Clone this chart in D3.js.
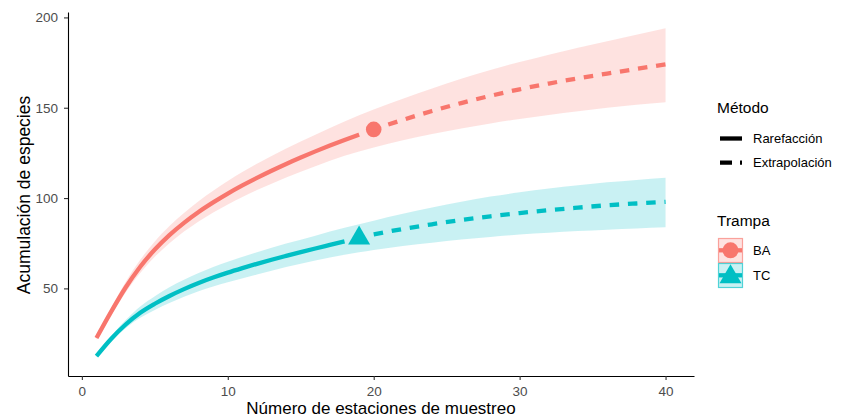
<!DOCTYPE html>
<html>
<head>
<meta charset="utf-8">
<script src="https://cdn.jsdelivr.net/npm/d3@7"></script>
<style>
  body { margin: 0; background: #fff; }
  svg { font-family: "Liberation Sans", Arial, sans-serif; }
</style>
</head>
<body>
<div id="chart"></div>
<script>
// BA (Trampa) - rarefaction, observed point, extrapolation
const baRareX = [1, 2, 3, 4, 5, 6, 7, 8, 9, 10, 11, 12, 13, 14, 15, 16, 17, 18, 19];
const baRareY = [22.5, 37, 50.5, 62, 71.5, 79.5, 86.3, 92.3, 97.6, 102.5, 107, 111.2, 115.15, 118.9, 122.45, 125.85, 129.1, 132.2, 135.15];
const baObs = [20, 138];
const baExtX = [21, 22, 24, 26, 28, 30, 32, 34, 36, 38, 40];
const baExtY = [140.7, 143.3, 148.2, 152.6, 156.6, 160.2, 163.4, 166.3, 168.9, 171.5, 174];
const baBandX = [1, 2, 3, 4, 5, 6, 8, 10, 12, 14, 16, 18, 20, 22, 24, 26, 28, 30, 32, 34, 36, 38, 40];
const baLo = [21.5, 35, 47.7, 58.5, 67.5, 75, 87, 96.5, 104.4, 111.4, 117.6, 123.4, 128, 132, 135.5, 138.5, 141.3, 143.8, 146, 148.1, 150, 151.6, 153];
const baHi = [23.5, 39, 53.5, 65.8, 76, 84.5, 98.3, 109.5, 119, 127.4, 135.1, 142.4, 149, 155, 160.7, 166, 170.9, 175.3, 179.4, 183.2, 186.8, 190.4, 194];

// TC
const tcRareX = [1, 2, 3, 4, 5, 6, 7, 8, 9, 10, 11, 12, 13, 14, 15, 16, 17, 18];
const tcRareY = [12.5, 22, 30, 36.5, 41.5, 45.8, 49.6, 53, 56, 58.7, 61.2, 63.6, 65.85, 68, 70.1, 72.1, 74.05, 76];
const tcObs = [19, 78.2];
const tcExtX = [20, 22, 24, 26, 28, 30, 32, 34, 36, 38, 40];
const tcExtY = [79.9, 82.9, 85.5, 87.9, 89.9, 91.7, 93.3, 94.7, 96, 97, 97.9];
const tcBandX = [1, 2, 3, 4, 5, 6, 8, 10, 12, 14, 16, 18, 19, 20, 22, 24, 26, 28, 30, 32, 34, 36, 38, 40];
const tcLo = [12, 20.8, 28, 33.7, 38.1, 41.9, 48.4, 53.4, 57.7, 61.8, 65.5, 68.6, 70, 71.3, 73.5, 75.3, 77, 78.5, 79.8, 80.8, 81.7, 82.5, 83.2, 83.8];
const tcHi = [13, 23.5, 32.5, 40, 45.7, 50.6, 58.5, 64.7, 70, 74.8, 79.2, 83.5, 85.5, 87.5, 91.3, 94.8, 98, 100.8, 103.2, 105.3, 107.1, 108.7, 110, 111.2];

const xTicks = [0, 10, 20, 30, 40];
const yTicks = [50, 100, 150, 200];
const trampas = ["BA", "TC"];
const metodos = ["Rarefacción", "Extrapolación"];
const colors = { BA: "#F8766D", TC: "#00BFC4" };

const width = 845, height = 420;
const svg = d3.select("#chart").append("svg")
    .attr("width", width)
    .attr("height", height);

svg.append("rect").attr("width", width).attr("height", height).attr("fill", "#fff");

const x = d3.scaleLinear().domain([-0.95, 41.95]).range([68, 694]);
const y = d3.scaleLinear().domain([1.5, 203]).range([376, 12]);

const zip = (xs, ys) => xs.map((v, i) => [v, ys[i]]);

const series = [
    { key: "BA", rare: zip(baRareX, baRareY), ext: zip(baExtX, baExtY), obs: baObs,
      band: baBandX.map((v, i) => [v, baLo[i], baHi[i]]) },
    { key: "TC", rare: zip(tcRareX, tcRareY), ext: zip(tcExtX, tcExtY), obs: tcObs,
      band: tcBandX.map((v, i) => [v, tcLo[i], tcHi[i]]) }
];

const area = d3.area()
    .x(d => x(d[0])).y0(d => y(d[1])).y1(d => y(d[2]))
    .curve(d3.curveMonotoneX);
const line = d3.line()
    .x(d => x(d[0])).y(d => y(d[1]))
    .curve(d3.curveMonotoneX);

// ribbons
series.forEach(s => {
    svg.append("path")
        .attr("d", area(s.band))
        .attr("fill", colors[s.key])
        .attr("fill-opacity", 0.21);
});

// lines
series.forEach(s => {
    svg.append("path")
        .attr("d", line(s.rare))
        .attr("fill", "none")
        .attr("stroke", colors[s.key])
        .attr("stroke-width", 4.3);
    svg.append("path")
        .attr("d", line(s.ext))
        .attr("fill", "none")
        .attr("stroke", colors[s.key])
        .attr("stroke-width", 4.3)
        .attr("stroke-dasharray", "9.5,8.8");
});

// observed markers
const triPath = "M0,-12L11,7L-11,7Z";
series.forEach(s => {
    const cx = x(s.obs[0]), cy = y(s.obs[1]);
    if (s.key === "BA") {
        svg.append("circle").attr("cx", cx).attr("cy", cy).attr("r", 7.8)
            .attr("fill", colors[s.key]);
    } else {
        svg.append("path").attr("d", triPath)
            .attr("transform", `translate(${cx},${cy})`)
            .attr("fill", colors[s.key]);
    }
});

// axes
const xAxis = svg.append("g")
    .attr("transform", `translate(0,376)`)
    .call(d3.axisBottom(x).tickValues(xTicks).tickSize(4).tickSizeOuter(0).tickPadding(6));
const yAxis = svg.append("g")
    .attr("transform", `translate(68,0)`)
    .call(d3.axisLeft(y).tickValues(yTicks).tickSize(4).tickSizeOuter(0).tickPadding(6));

[xAxis, yAxis].forEach(g => {
    g.select(".domain").attr("stroke", "#000").attr("stroke-width", 1.1);
    g.selectAll(".tick line").attr("stroke", "#333").attr("stroke-width", 1.1);
    g.selectAll(".tick text")
        .attr("fill", "#4D4D4D")
        .style("font-size", "13.5px")
        .style("font-family", "'Liberation Sans', Arial, sans-serif");
});

svg.append("text")
    .attr("x", 381).attr("y", 414)
    .attr("text-anchor", "middle")
    .style("font-size", "17px")
    .text("Número de estaciones de muestreo");

svg.append("text")
    .attr("transform", "translate(30,195) rotate(-90)")
    .attr("text-anchor", "middle")
    .style("font-size", "17.5px")
    .text("Acumulación de especies");

// legend: Método
const leg = svg.append("g");
leg.append("text").attr("x", 717).attr("y", 113)
    .style("font-size", "15.5px").text("Método");

metodos.forEach((m, i) => {
    const cy = 138.5 + i * 24.2;
    leg.append("line")
        .attr("x1", 720).attr("x2", 742).attr("y1", cy).attr("y2", cy)
        .attr("stroke", "#000").attr("stroke-width", 4.3)
        .attr("stroke-dasharray", i === 0 ? null : "12,8");
    leg.append("text").attr("x", 753).attr("y", cy + 4.6)
        .style("font-size", "13px").text(m);
});

// legend: Trampa
leg.append("text").attr("x", 717).attr("y", 226)
    .style("font-size", "15.5px").text("Trampa");

trampas.forEach((t, i) => {
    const top = 238 + i * 25;
    const cy = top + 12.3;
    const g = leg.append("g");
    g.append("rect")
        .attr("x", 718.5).attr("y", top + 0.5).attr("width", 24).attr("height", 24)
        .attr("fill", colors[t]).attr("fill-opacity", 0.21)
        .attr("stroke", colors[t]).attr("stroke-opacity", 0.65).attr("stroke-width", 1.2);
    g.append("line")
        .attr("x1", 719).attr("x2", 742).attr("y1", cy).attr("y2", cy)
        .attr("stroke", colors[t]).attr("stroke-width", 4.3);
    if (t === "BA") {
        g.append("circle").attr("cx", 730.5).attr("cy", cy).attr("r", 8)
            .attr("fill", colors[t]);
    } else {
        g.append("path").attr("d", triPath)
            .attr("transform", `translate(730.5,${cy + 1})`)
            .attr("fill", colors[t]);
    }
    leg.append("text").attr("x", 753).attr("y", cy + 4.8)
        .style("font-size", "13px").text(t);
});
</script>
</body>
</html>
